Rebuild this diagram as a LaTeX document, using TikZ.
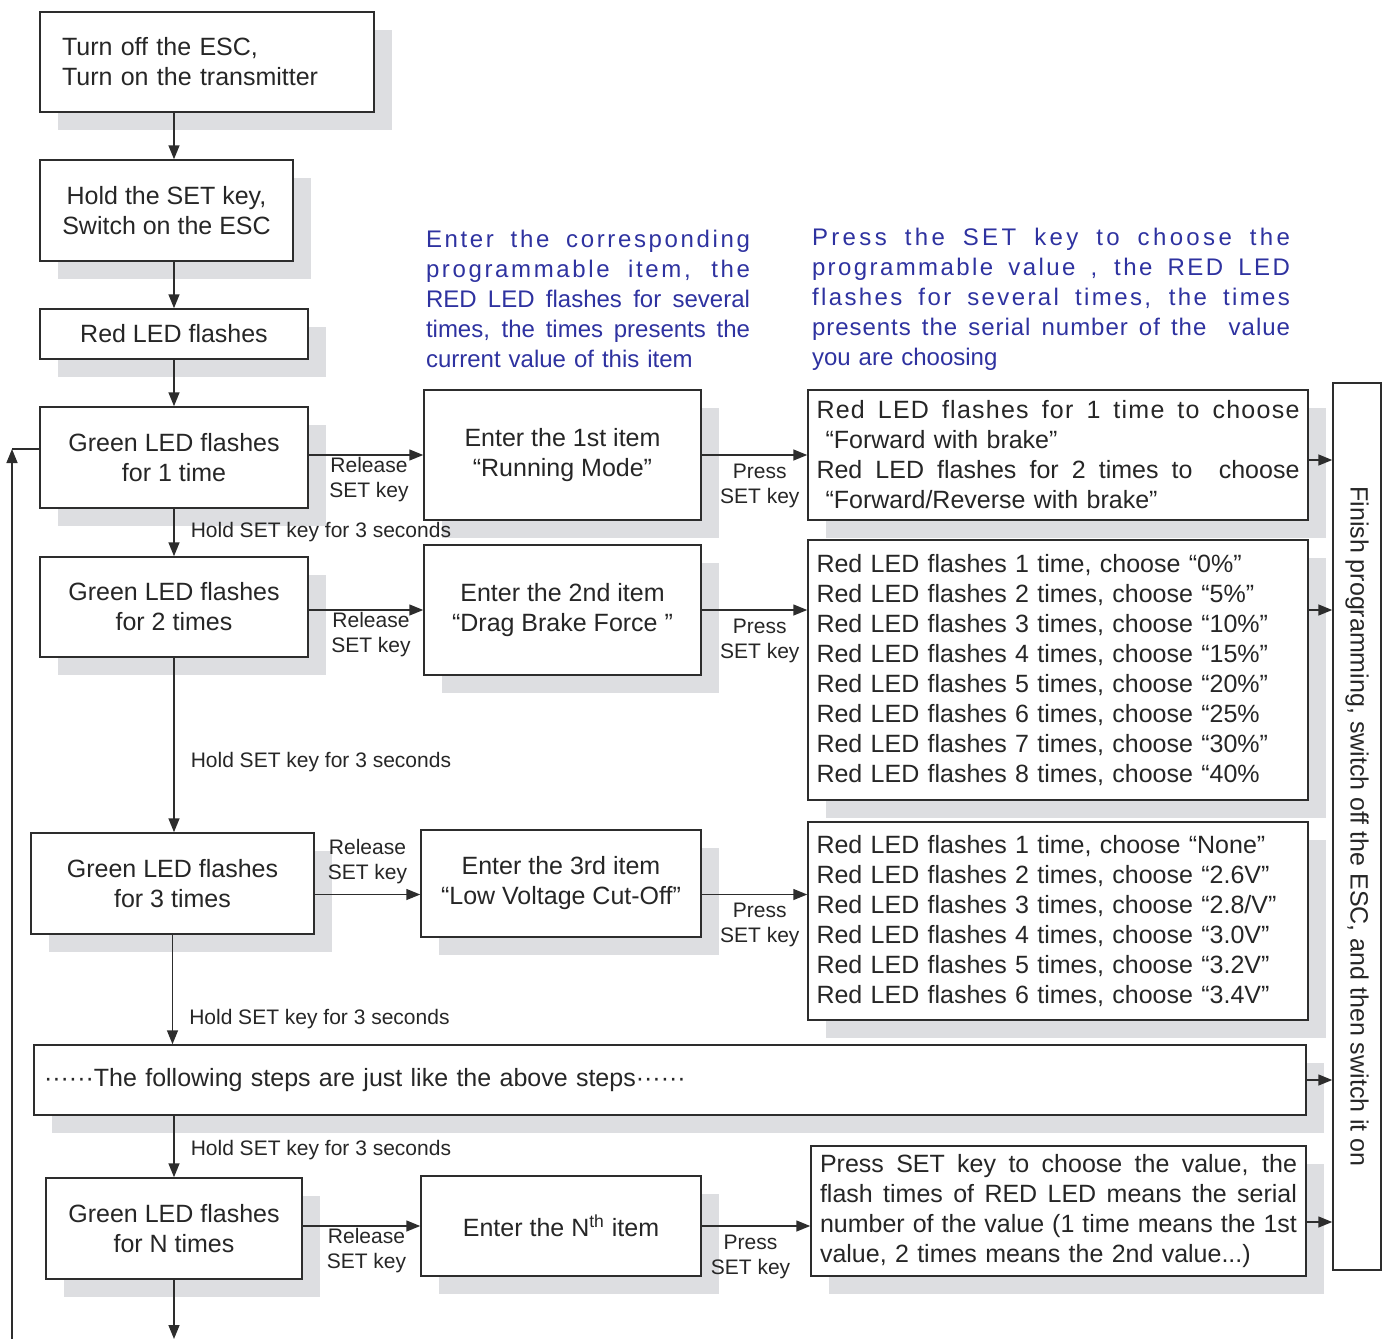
\documentclass[tikz,border=0pt]{standalone}
\usepackage{fontspec}
\setmainfont{Liberation Sans}
\usetikzlibrary{arrows.meta,positioning,shadows}
\definecolor{ink}{RGB}{45,45,45}
\definecolor{notecol}{RGB}{46,50,160}
\definecolor{shade}{RGB}{221,222,225}
\tikzset{%
    >={Triangle[length=7pt,width=5.5pt]},
    plain/.style={draw=ink,line width=0.75pt,fill=white,align=center,inner sep=2pt,
        font=\fontsize{12.5}{15}\selectfont},
    box/.style={plain,drop shadow={shadow xshift=9pt,shadow yshift=-9pt,fill=shade,opacity=1}},
    vbox/.style={box,align=left,inner xsep=4.25pt},
    lab/.style={font=\fontsize{10.5}{12.5}\selectfont,align=center,inner sep=1pt},
    note/.style={text=notecol,align=left,inner sep=0pt,font=\fontsize{12}{15}\selectfont},
    con/.style={draw=ink,line width=0.75pt}
}
% justified line, optionally letter spaced
\newcommand{\jl}[1]{{\spaceskip=0pt\xspaceskip=0pt\makebox[\hsize][s]{#1}}}
\newcommand{\wl}[2][6]{{\addfontfeatures{LetterSpace=#1}\spaceskip=0pt\xspaceskip=0pt\makebox[\hsize][s]{#2}}}

\begin{document}
\begin{tikzpicture}[x=0.5pt,y=-0.5pt,text=black!85]
\useasboundingbox (0,0) rectangle (1389,1339);
% left column
\node[box,align=left,text width=145pt,inner xsep=11pt,minimum height=50pt] (s1) at (207,62) {Turn off the ESC,\\Turn on the transmitter};
\node[box,minimum width=126.5pt,minimum height=50.5pt] (s2) at (166.5,210.5) {Hold the SET key,\\Switch on the ESC};
\node[box,minimum width=134pt,minimum height=25pt] (s3) at (174,334) {Red LED flashes};
\node[box,minimum width=134pt,minimum height=50.5pt] (g1) at (174,457.5) {Green LED flashes\\for 1 time};
\node[box,minimum width=134pt,minimum height=50pt] (g2) at (174,607) {Green LED flashes\\for 2 times};
\node[box,minimum width=141.5pt,minimum height=50.5pt] (g3) at (172.5,883.5) {Green LED flashes\\for 3 times};
\node[box,align=left,text width=626pt,inner xsep=5pt,minimum height=35pt] (more) at (670,1080) {······The following steps are just like the above steps······};
\node[box,minimum width=128pt,minimum height=50.5pt] (gn) at (174,1228.5) {Green LED flashes\\for N times};
% items
\node[box,minimum width=138.5pt,minimum height=65pt] (i1) at (562.5,455) {Enter the 1st item\\“Running Mode”};
\node[box,minimum width=138.5pt,minimum height=65pt] (i2) at (562.5,610) {Enter the 2nd item\\“Drag Brake Force ”};
\node[box,minimum width=140pt,minimum height=53.5pt] (i3) at (561,883.5) {Enter the 3rd item\\“Low Voltage Cut-Off”};
\node[box,minimum width=140pt,minimum height=50pt] (in) at (561,1226) {Enter the N\textsuperscript{th} item};
% values
\node[vbox,text width=241.5pt,minimum height=65pt] (v1) at (1058,455) {\wl[5]{Red LED flashes for 1 time to choose}\\
    \hspace*{4.5pt}“Forward with brake”\\
    \jl{Red LED flashes for 2 times to \ choose}\\
    \hspace*{4.5pt}“Forward/Reverse with brake”};
\node[vbox,text width=241.5pt,minimum height=130pt] (v2) at (1058,670) {Red LED flashes 1 time, choose “0\%”\\
    Red LED flashes 2 times, choose “5\%”\\
    Red LED flashes 3 times, choose “10\%”\\
    Red LED flashes 4 times, choose “15\%”\\
    Red LED flashes 5 times, choose “20\%”\\
    Red LED flashes 6 times, choose “25\%\\
    Red LED flashes 7 times, choose “30\%”\\
    Red LED flashes 8 times, choose “40\%};
\node[vbox,text width=241.5pt,minimum height=99pt] (v3) at (1058,921) {Red LED flashes 1 time, choose “None”\\
    Red LED flashes 2 times, choose “2.6V”\\
    Red LED flashes 3 times, choose “2.8/V”\\
    Red LED flashes 4 times, choose “3.0V”\\
    Red LED flashes 5 times, choose “3.2V”\\
    Red LED flashes 6 times, choose “3.4V”};
\node[vbox,text width=238.5pt,inner xsep=4.5pt,minimum height=65pt] (vn) at (1058.5,1211) {\jl{Press SET key to choose the value, the}\\
    \jl{flash times of RED LED means the serial}\\
    \jl{number of the value (1 time means the 1st}\\
    value, 2 times means the 2nd value...)};
\node[plain,rotate=-90,minimum width=443.5pt,minimum height=24pt] (fin) at (1357,826.5) {Finish programming, switch off the ESC, and then switch it on};
% notes
\node[note,text width=162pt] (n1) at (588,299) {\wl[11]{Enter the corresponding}\\ \wl[11]{programmable item, the}\\
    \jl{RED LED flashes for several}\\ \jl{times, the times presents the}\\ current value of this item};
\node[note,text width=239pt] (n2) at (1051,299) {\wl[14]{Press the SET key to choose the}\\ \wl[10]{programmable value , the RED LED}\\
    \wl[10]{flashes for several times, the times}\\ \wl[4]{presents the serial number of the \ value}\\ you are choosing};
%%%%%
\coordinate (bot) at (174,1339);
\coordinate (lb) at (12,1339);
\coordinate (lt) at (12,449);
\draw[con,->] (s3.north |- s1.south) -- (s3.north |- s2.north);
\draw[con,->] (s3.north |- s2.south) -- (s3.north);
\draw[con,->] (s3.south) -- (g1.north);
\draw[con,->] (g1.south) -- node[lab,right=7pt]{Hold SET key for 3 seconds} (g2.north);
\draw[con,->] (g2.south) -- node[lab,right=7pt,pos=0.6]{Hold SET key for 3 seconds} (g2.south |- g3.north);
\draw[con,->] (g3.south) -- node[lab,right=7pt,pos=0.77]{Hold SET key for 3 seconds} (g3.south |- more.north);
\draw[con,->] (gn.north |- more.south) -- node[lab,right=7pt,pos=0.55]{Hold SET key for 3 seconds} (gn.north);
\draw[con,->] (gn.south) -- (bot);
\draw[con,->] (lb) -- (lt);
\draw[con] (lt) -- (lt -| g1.west);
% release / press
\draw[con,->] (g1.east |- i1.west) -- node[lab,below,xshift=1.5pt]{Release\\SET key} (i1.west);
\draw[con,->] (g2.east |- i2.west) -- node[lab,below,xshift=2.5pt]{Release\\SET key} (i2.west);
\draw[con,->] ([yshift=-5.5pt]g3.east) -- node[lab,above,yshift=4pt]{Release\\SET key} ([yshift=-5.5pt]g3.east -| i3.west);
\draw[con,->] (gn.east |- in.west) -- node[lab,below,xshift=2.5pt]{Release\\SET key} (in.west);
\draw[con,->] (i1.east) -- node[lab,below=3pt,pos=0.55]{Press\\SET key} (v1.west);
\draw[con,->] (i2.east) -- node[lab,below=3pt,pos=0.55]{Press\\SET key} (i2.east -| v2.west);
\draw[con,->] ([yshift=-5.5pt]i3.east) -- node[lab,below=3pt,pos=0.55]{Press\\SET key} ([yshift=-5.5pt]i3.east -| v3.west);
\draw[con,->] (in.east) -- node[lab,below=3pt,pos=0.45]{Press\\SET key} (in.east -| vn.west);
% to finish
\draw[con,->] ([yshift=-2.5pt]v1.east) -- ([yshift=-2.5pt]v1.east -| fin.south);
\draw[con,->] (i2.east -| v2.east) -- (i2.east -| fin.south);
\draw[con,->] (more.east) -- (more.east -| fin.south);
\draw[con,->] ([yshift=-5.5pt]vn.east) -- ([yshift=-5.5pt]vn.east -| fin.south);
\end{tikzpicture}
\end{document}
